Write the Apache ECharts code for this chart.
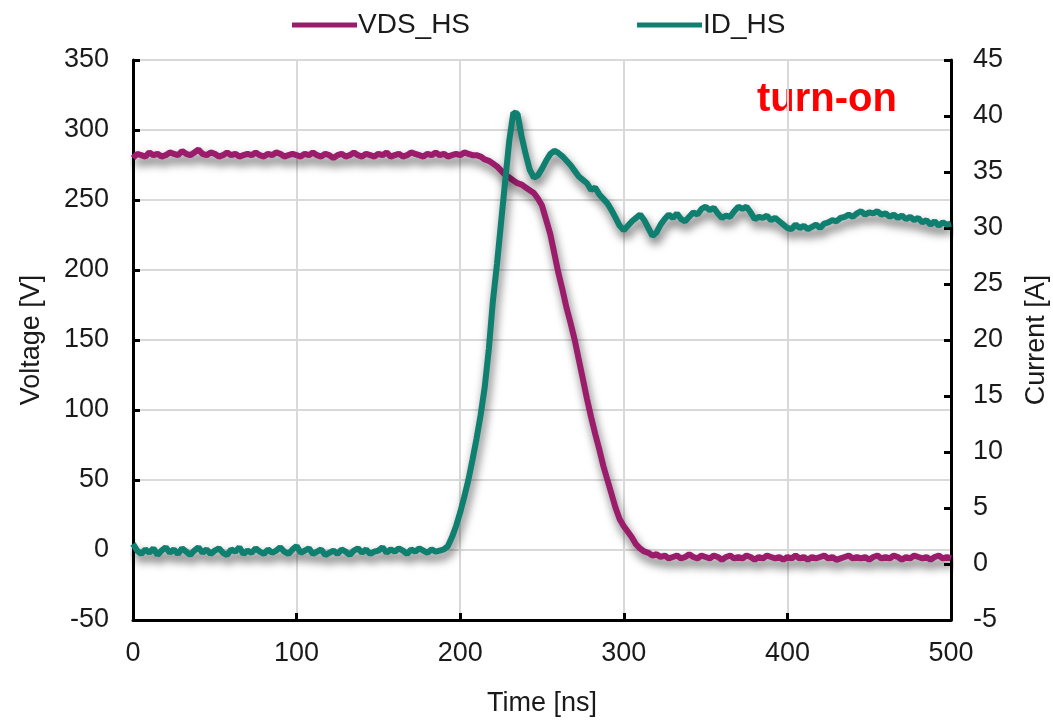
<!DOCTYPE html>
<html>
<head>
<meta charset="utf-8">
<script src="https://cdn.jsdelivr.net/npm/echarts@6/dist/echarts.min.js"></script>
<style>
  html, body { margin: 0; padding: 0; background: #fff; }
  #chart { width: 1053px; height: 722px; }
</style>
</head>
<body>
<div id="chart"></div>
<script>
// sampling step of the scope trace, ns
const stepNs = 2.5

// VDS_HS [V], one value per 2.5 ns from 0 to 500 ns
const vdsHs = [
  280, 283, 282, 281, 284, 282, 283, 281, 282, 284,
  283, 282, 285, 283, 282, 284, 286, 283, 282, 284,
  283, 281, 282, 284, 282, 283, 281, 282, 283, 282,
  284, 282, 281, 283, 282, 284, 283, 281, 282, 283,
  282, 281, 283, 282, 284, 282, 281, 283, 282, 280,
  282, 283, 281, 282, 284, 282, 281, 283, 282, 281,
  283, 282, 284, 281, 282, 283, 281, 282, 284, 283,
  282, 281, 283, 282, 284, 282, 283, 281, 282, 283,
  282, 284, 283, 282,
  282, 281, 279, 278, 276, 274, 271, 268, 266, 264,
  262, 261, 259, 257, 255, 251, 246, 236, 226, 212,
  198, 186, 173, 162, 150, 136, 122, 108, 95, 83,
  72, 60, 50, 40, 30, 22, 17, 13, 9, 4,
  1, -1, -2, -4, -3,
  -5, -4, -6, -5, -4, -6, -5, -3, -5, -6,
  -4, -5, -6, -4, -5, -7, -5, -4, -6, -5,
  -6, -4, -5, -7, -5, -6, -4, -5, -6, -5,
  -7, -5, -6, -4, -6, -5, -7, -5, -6, -5,
  -4, -6, -5, -7, -6, -5, -4, -6, -5, -6,
  -5, -7, -5, -4, -6, -5, -6, -4, -5, -7,
  -5, -6, -4, -5, -6, -5, -7, -5, -4, -6,
  -5, -6
]

// ID_HS [A], same time base
const idHs = [
  1.8, 1.2, 0.9, 1.3, 1.0, 1.4, 0.8, 1.2, 1.5, 1.0,
  1.3, 0.9, 1.4, 1.1, 0.8, 1.2, 1.5, 1.0, 1.3, 0.9,
  1.2, 1.4, 1.0, 0.8, 1.3, 1.1, 1.5, 0.9, 1.2, 1.0,
  1.4, 1.1, 0.9, 1.3, 1.0, 1.2, 1.5, 1.1, 0.9, 1.3,
  1.6, 1.0, 1.2, 1.4, 0.9, 1.1, 1.3, 0.8, 1.0, 1.2,
  0.9, 1.3, 1.1, 0.8, 1.2, 1.4, 1.0, 1.3, 0.9, 1.1,
  1.2, 1.5, 1.0, 1.3, 1.1, 1.4, 1.2, 0.9, 1.3, 1.1,
  1.4, 1.2, 1.0, 1.3, 1.1, 1.2, 1.3,
  1.6, 2.4, 3.4, 4.6, 6.0, 7.5, 9.3, 11.2, 13.3, 15.8,
  19.2, 23.5, 26.8, 30.5, 34.2, 37.8, 40.3, 40.2, 38.2, 36.6,
  35.2, 34.5, 34.7, 35.3, 36.0, 36.6, 36.9, 36.7, 36.4, 36.0,
  35.6, 35.1, 34.6, 34.3, 34.0, 33.4, 33.6, 33.0, 32.6, 32.2,
  31.6, 30.9, 30.2, 29.8,
  30.2, 30.6, 30.9, 31.2, 30.7, 30.0, 29.3, 29.6, 30.3, 30.8,
  31.2, 30.9, 31.3, 30.8, 30.6, 31.0, 31.4, 31.2, 31.7, 31.9,
  31.6, 31.8, 31.3, 30.9, 31.1, 31.0, 31.5, 31.9, 31.7, 31.9,
  31.4, 30.8, 31.0, 30.9, 31.1, 30.7, 30.9, 30.6, 30.3, 30.0,
  29.9, 30.3, 30.0, 30.2, 29.9, 30.1, 30.3, 30.0, 30.4, 30.5,
  30.7, 30.6, 30.9, 31.0, 31.2, 31.0, 31.3, 31.5, 31.2, 31.4,
  31.3, 31.5, 31.2, 31.3, 31.0, 31.2, 30.9, 31.1, 30.8, 31.0,
  30.7, 30.9, 30.5, 30.7, 30.3, 30.6, 30.2, 30.5, 30.3, 30.4
]

const font = 'Liberation Sans, Arial, sans-serif'
const textColor = '#1a1a1a'
const vdsColor = '#9c1c6c'
const idColor = '#0f7f70'

const withTime = (values) => values.map((v, i) => [i * stepNs, v])

const axisLine = { show: true, onZero: false, lineStyle: { color: '#000', width: 3 } }
const axisTick = { show: true, inside: true, length: 7, lineStyle: { color: '#000', width: 3 } }
const axisLabel = { fontSize: 27, fontFamily: font, color: textColor }
const gridLine = { show: true, lineStyle: { color: '#d9d9d9', width: 2 } }

const shadow = {
  shadowColor: 'rgba(0,0,0,0.6)',
  shadowBlur: 10,
  shadowOffsetX: 2,
  shadowOffsetY: 6,
}

const chart = echarts.init(document.getElementById('chart'))

chart.setOption({
  animation: false,
  backgroundColor: '#fff',
  grid: { left: 133, right: 102, top: 60, bottom: 102, outerBoundsMode: 'none', containLabel: false },
  legend: {
    top: 6,
    left: 287,
    itemWidth: 65,
    itemHeight: 5,
    itemGap: 167,
    icon: 'rect',
    textStyle: { fontSize: 28, fontFamily: font, color: textColor, padding: [0, 0, 0, -4] },
    data: ['VDS_HS', 'ID_HS'],
  },
  xAxis: {
    type: 'value',
    min: 0,
    max: 500,
    interval: 100,
    name: 'Time [ns]',
    nameLocation: 'middle',
    nameGap: 70,
    nameTextStyle: { fontSize: 27, fontFamily: font, color: textColor },
    axisLine,
    axisTick,
    axisLabel: { ...axisLabel, margin: 20 },
    splitLine: gridLine,
  },
  yAxis: [
    {
      type: 'value',
      position: 'left',
      min: -50,
      max: 350,
      interval: 50,
      name: 'Voltage [V]',
      nameLocation: 'middle',
      nameGap: 88,
      nameRotate: 90,
      nameTextStyle: { fontSize: 27, fontFamily: font, color: textColor },
      axisLine,
      axisTick,
      axisLabel: { ...axisLabel, margin: 24 },
      splitLine: gridLine,
    },
    {
      type: 'value',
      position: 'right',
      min: -5,
      max: 45,
      interval: 5,
      name: 'Current [A]',
      nameLocation: 'middle',
      nameGap: 72,
      nameRotate: 90,
      nameTextStyle: { fontSize: 27, fontFamily: font, color: textColor },
      axisLine,
      axisTick,
      axisLabel: { ...axisLabel, margin: 22 },
      splitLine: { show: false },
    },
  ],
  graphic: [
    {
      type: 'text',
      left: 757,
      top: 80,
      style: {
        text: 'turn-on',
        font: 'bold 40px ' + font,
        fill: '#ff0000',
      },
    },
  ],
  series: [
    {
      name: 'VDS_HS',
      type: 'line',
      yAxisIndex: 0,
      data: withTime(vdsHs),
      showSymbol: false,
      color: vdsColor,
      lineStyle: { color: vdsColor, width: 6, ...shadow },
    },
    {
      name: 'ID_HS',
      type: 'line',
      yAxisIndex: 1,
      data: withTime(idHs),
      showSymbol: false,
      color: idColor,
      lineStyle: { color: idColor, width: 6, ...shadow },
    },
  ],
})
</script>
</body>
</html>
